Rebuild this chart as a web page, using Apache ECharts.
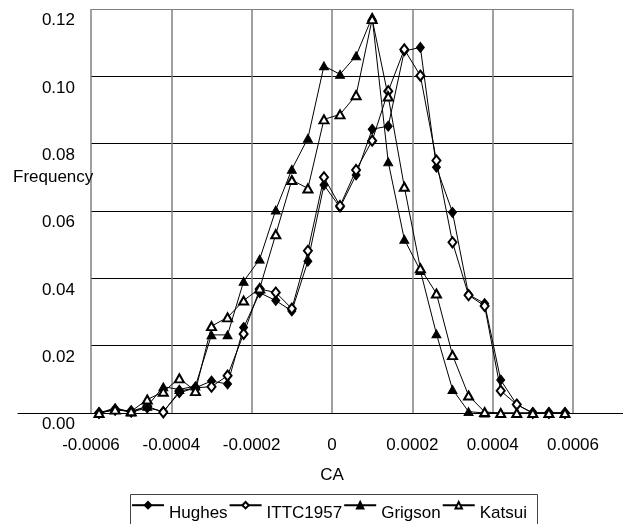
<!DOCTYPE html>
<html>
<head>
<meta charset="utf-8">
<script src="https://cdn.jsdelivr.net/npm/echarts@6/dist/echarts.min.js"></script>
<style>
html,body{margin:0;padding:0;background:#fff;}
#chart{width:623px;height:524px;}
</style>
</head>
<body>
<div id="chart"></div>
<script>
// CA bin centres
const caValues = [-0.00058,-0.00054,-0.00050,-0.00046,-0.00042,-0.00038,-0.00034,-0.00030,-0.00026,-0.00022,
  -0.00018,-0.00014,-0.00010,-0.00006,-0.00002,0.00002,0.00006,0.00010,0.00014,0.00018,
  0.00022,0.00026,0.00030,0.00034,0.00038,0.00042,0.00046,0.00050,0.00054,0.00058];
const hughes = [0,0.0011,0.0003,0.0015,0.0005,0.006,0.0075,0.0095,0.0086,0.0254,
  0.0357,0.0334,0.0303,0.0451,0.0677,0.0611,0.0707,0.0843,0.0852,0.1075,
  0.1086,0.073,0.0596,0.0352,0.0325,0.0098,0.0025,0,0,0];
const ittc1957 = [0,0.001,0.0005,0.002,0.0002,0.0065,0.0075,0.0078,0.0111,0.0235,
  0.0368,0.0358,0.031,0.0482,0.070,0.0615,0.0722,0.0809,0.0956,0.108,
  0.1002,0.075,0.0507,0.035,0.0318,0.0066,0.0025,0,0,0];
const grigson = [0,0.0015,0.0003,0.002,0.0078,0.007,0.008,0.0232,0.0232,0.0391,
  0.0457,0.0603,0.0724,0.0816,0.1031,0.1006,0.1061,0.1176,0.0746,0.0516,
  0.0423,0.0235,0.007,0.0004,0,0,0,0,0,0];
const katsui = [0,0.001,0.0005,0.004,0.0063,0.0103,0.0065,0.0258,0.0284,0.0334,
  0.037,0.0531,0.0692,0.0667,0.0872,0.0887,0.0944,0.117,0.094,0.0672,
  0.043,0.0355,0.0172,0.0052,0.0003,0,0,0,0,0];
const xTickLabels = ['-0.0006','-0.0004','-0.0002','0','0.0002','0.0004','0.0006'];
const yTickLabels = ['0.00','0.02','0.04','0.06','0.08','0.10','0.12'];
const seriesNames = ['Hughes','ITTC1957','Grigson','Katsui'];

const FONT = 'Liberation Sans';
const xMin = -0.0006, xMax = 0.0006, xStep = 0.0002;
const yMin = 0, yMax = 0.12, yStep = 0.02;

function pairs(ys){ return caValues.map((x,i)=>[x, ys[i]]); }

const symbols = ['diamond','emptyDiamond','triangle','emptyTriangle'];
const sizes = [[8,10],[8,10],[9,8],[9,8]];
const datasets = [hughes, ittc1957, grigson, katsui];

const chart = echarts.init(document.getElementById('chart'), null, {renderer:'canvas'});
chart.setOption({
  animation:false,
  backgroundColor:'#fff',
  textStyle:{fontFamily:FONT},
  title:{
    text:'Frequency', left:13, top:169, padding:0,
    textStyle:{fontFamily:FONT, fontSize:17, fontWeight:'normal', color:'#000'}
  },
  grid:[
    {left:91, right:50, top:9, bottom:111, containLabel:false},
    {left:18, right:0, top:9, bottom:111, containLabel:false}
  ],
  legend:{
    data:seriesNames,
    left:131, top:501, padding:0,
    itemWidth:32, itemHeight:8, itemGap:1,
    formatter:'{t|{name}}',
    textStyle:{fontFamily:FONT, fontSize:17, color:'#000',
      rich:{t:{fontFamily:FONT, fontSize:17, color:'#000', padding:[17,0,0,0]}}}
  },
  graphic:[{
    type:'rect', left:128, top:492, z:10, silent:true,
    shape:{width:407, height:31},
    style:{fill:null, stroke:'#444', lineWidth:1}
  }],
  xAxis:[{
    type:'value', gridIndex:0, min:xMin, max:xMax, interval:xStep,
    name:'CA', nameLocation:'middle', nameGap:54,
    nameTextStyle:{fontFamily:FONT, fontSize:17, color:'#000'},
    axisLine:{show:true, onZero:false, lineStyle:{color:'#000', width:1}},
    axisTick:{show:false},
    axisLabel:{fontFamily:FONT, fontSize:17, color:'#000', margin:24,
      formatter:v=>xTickLabels[Math.round((v-xMin)/xStep)]},
    splitLine:{show:true, lineStyle:{color:'#808080', width:1.5}}
  },{
    type:'value', gridIndex:1, min:0, max:1,
    axisLine:{show:true, onZero:false, lineStyle:{color:'#000', width:1}},
    axisTick:{show:false}, axisLabel:{show:false}, splitLine:{show:false}
  }],
  yAxis:[{
    type:'value', gridIndex:0, min:yMin, max:yMax, interval:yStep,
    axisLine:{show:false}, axisTick:{show:false},
    axisLabel:{fontFamily:FONT, fontSize:17, color:'#000', margin:16,
      verticalAlign:'top', padding:[3,0,0,0],
      formatter:v=>yTickLabels[Math.round((v-yMin)/yStep)]},
    splitLine:{show:true, lineStyle:{color:['#000','#000','#000','#000','#000','#000','#808080'], width:1}}
  },{
    type:'value', gridIndex:1, min:0, max:1, show:false
  }],
  series: seriesNames.map((name,k)=>({
    name:name, type:'line', xAxisIndex:0, yAxisIndex:0,
    data:pairs(datasets[k]),
    symbol:symbols[k], symbolSize:sizes[k], showSymbol:true,
    lineStyle:{color:'#000', width:1},
    itemStyle:{color:'#000', borderColor:'#000', borderWidth:1},
    z:2+k
  }))
});
</script>
</body>
</html>
